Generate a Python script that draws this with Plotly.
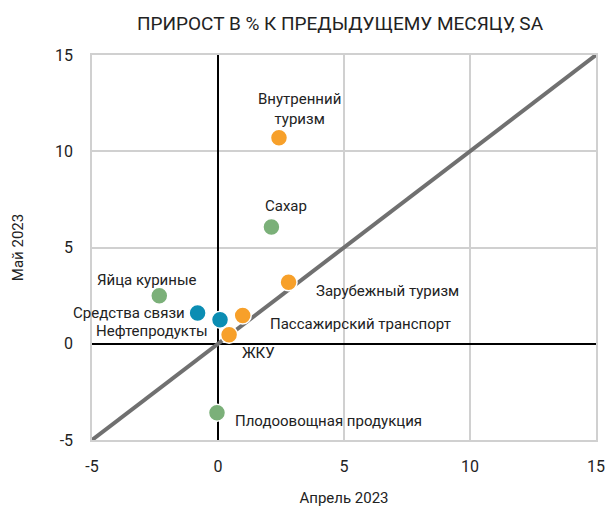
import plotly.graph_objects as go

names = ["Внутренний<br>туризм", "Сахар", "Зарубежный туризм", "Яйца куриные",
         "Средства связи", "Нефтепродукты", "Пассажирский транспорт", "ЖКУ",
         "Плодоовощная продукция"]
april = [2.42, 2.12, 2.8, -2.33, -0.81, 0.08, 0.98, 0.44, -0.04]
may = [10.7, 6.07, 3.2, 2.49, 1.6, 1.25, 1.47, 0.47, -3.58]
groups = ["o", "g", "o", "g", "b", "b", "o", "o", "g"]
x_ticks = [-5, 0, 5, 10, 15]
y_ticks = [-5, 0, 5, 10, 15]
tick_text = ["-5", "0", "5", "10", "15"]

colors = {"o": "#F7A02A", "g": "#7BB079", "b": "#0B8DB3"}
# label placement: (xanchor, xshift, yshift)
label_pos = [("center", 21, 29), ("center", 15, 21), ("left", 25, -9), ("center", -12, 16),
             ("right", -11, 0), ("right", -10, -11), ("left", 25, -9), ("left", 11, -18),
             ("left", 16, -8)]

font = "Roboto"
txt = "#222"
fig = go.Figure()
fig.add_trace(go.Scatter(x=[x_ticks[0], x_ticks[-1]], y=[y_ticks[0], y_ticks[-1]], mode="lines",
                         line=dict(color="#707070", width=4), hoverinfo="skip", showlegend=False))
fig.add_trace(go.Scatter(x=april, y=may, mode="markers", text=names,
                         marker=dict(size=17, color=[colors[g] for g in groups],
                                     line=dict(color="white", width=1.5)),
                         showlegend=False))

for n, xa, ya, (anc, xs, ys) in zip(names, april, may, label_pos):
    fig.add_annotation(x=xa, y=ya, text=n, showarrow=False, xanchor=anc, yanchor="middle",
                       xshift=xs, yshift=ys, font=dict(family=font, size=15, color=txt))

axis_common = dict(showgrid=True, gridcolor="#D0D0D0", gridwidth=1.5, zeroline=True,
                   zerolinecolor="#000", zerolinewidth=2, showline=True, mirror=True,
                   linecolor="#D0D0D0", linewidth=1.5, ticks="", automargin=False,
                   tickfont=dict(family=font, size=16, color=txt))
fig.update_xaxes(range=[-5, 15], tickvals=x_ticks, ticktext=tick_text, ticklabelstandoff=11,
                 title=dict(text="Апрель 2023", font=dict(family=font, size=15, color=txt), standoff=18),
                 **axis_common)
fig.update_yaxes(range=[-5, 15], tickvals=y_ticks, ticktext=tick_text, ticklabelstandoff=14,
                 title=dict(text="Май 2023", font=dict(family=font, size=15, color=txt), standoff=28),
                 **axis_common)

fig.update_layout(width=605, height=507, margin=dict(l=92, r=9, t=55, b=67),
                  plot_bgcolor="white", paper_bgcolor="white",
                  title=dict(text="ПРИРОСТ В % К ПРЕДЫДУЩЕМУ МЕСЯЦУ, SA", x=0.562, xanchor="center",
                             y=0.953, yanchor="middle", font=dict(family=font, size=19, color=txt)))
fig.write_html("out.html", config={"displayModeBar": False},
               post_script="document.body.style.margin='0';")
